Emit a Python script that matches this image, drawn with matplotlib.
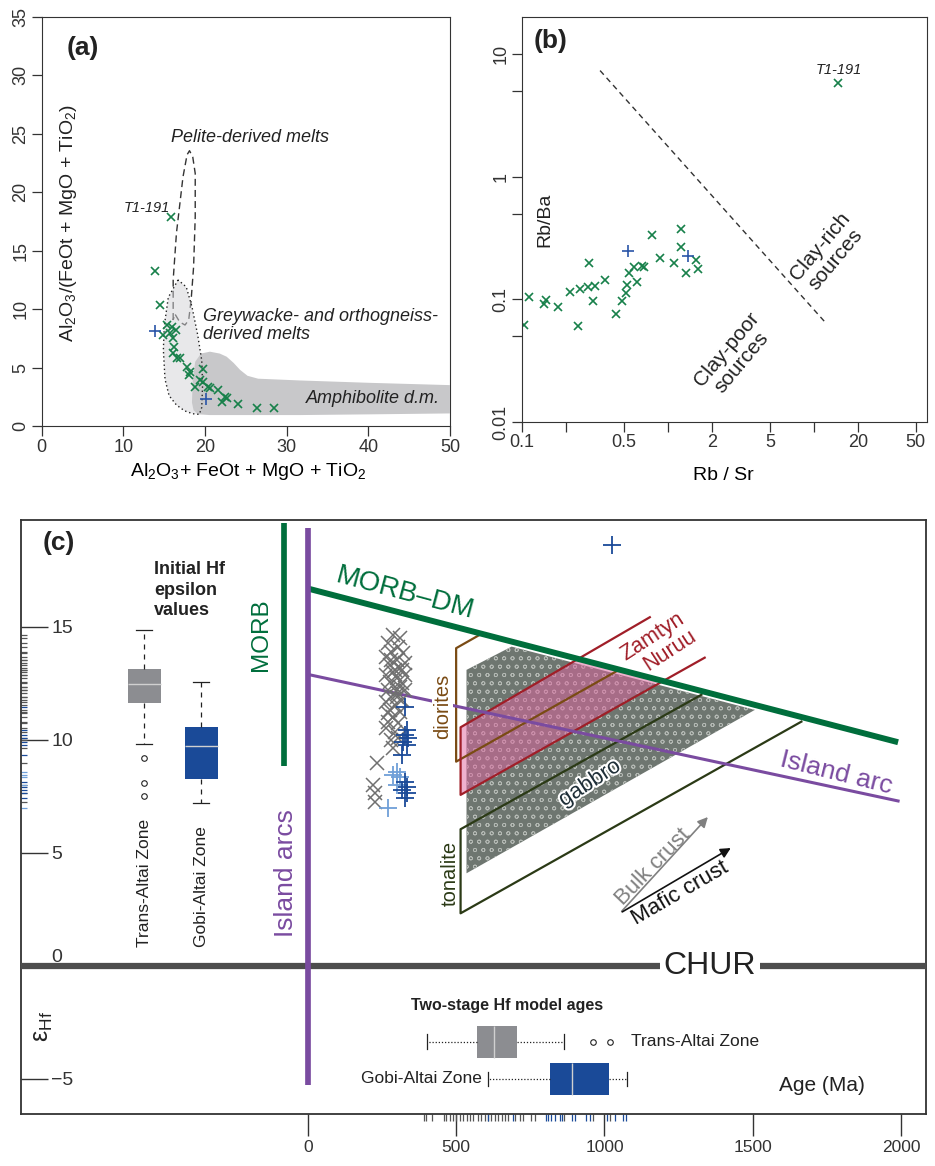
import matplotlib
matplotlib.use('Agg')
import matplotlib.pyplot as plt
import matplotlib.patheffects as pe
from matplotlib.ticker import NullLocator

plt.rcParams['font.family'] = ['Liberation Sans', 'DejaVu Sans']
plt.rcParams['mathtext.fontset'] = 'custom'
plt.rcParams['mathtext.rm'] = 'Liberation Sans'
plt.rcParams['mathtext.it'] = 'Liberation Sans:italic'
plt.rcParams['mathtext.bf'] = 'Liberation Sans:bold'
plt.rcParams['hatch.linewidth'] = 0.55
plt.rcParams['axes.edgecolor'] = '#333333'
plt.rcParams['xtick.color'] = '#333333'
plt.rcParams['ytick.color'] = '#333333'
plt.rcParams['text.color'] = '#222222'

GREEN = '#17804a'
BLUE = '#2a55a8'
LBLUE = '#6f9fd8'
MORB_GREEN = '#006e3c'
PURPLE = '#7a4ba0'
BROWN = '#7a4b14'
RED = '#a01e28'
OLIVE = '#2b3a16'
GREY_BOX = '#8c8d91'
BLUE_BOX = '#1a4a98'

# ---------------- panel (a) data ----------------
a_green_x = [15.8, 13.9, 14.5, 15.30, 15.91, 16.44, 14.89, 15.70, 16.11, 16.19, 16.03, 16.52, 16.93,
             17.75, 18.15, 18.07, 19.78, 18.76, 19.38, 19.78, 20.39, 20.60, 21.62, 22.44, 22.03,
             22.64, 24.07, 26.39, 28.43]
a_green_y = [17.85, 13.3, 10.38, 8.64, 8.50, 8.21, 7.78, 7.93, 7.50, 6.79, 6.22, 5.79, 5.79,
             5.07, 4.65, 4.36, 4.85, 3.36, 3.93, 3.79, 3.36, 3.22, 3.08, 2.51, 2.08,
             2.37, 1.88, 1.51, 1.51]
a_blue_x = [13.9, 20.15]
a_blue_y = [8.1, 2.3]

pelite_x = [16.1, 16.1, 16.5, 17.3, 17.8, 18.1, 18.5, 18.8, 18.8, 18.6, 18.3, 18.0, 17.55, 16.9, 16.3, 16.1]
pelite_y = [9.07, 12.5, 16.5, 21.3, 23.2, 23.55, 23.0, 21.6, 17.9, 13.6, 10.8, 9.07, 8.64, 8.9, 9.6, 9.07]

grey_x = [16.7, 15.5, 15.0, 14.9, 15.1, 15.6, 16.5, 17.5, 18.5, 19.3, 19.6, 19.7, 19.6, 19.1, 18.4, 17.7, 16.7]
grey_y = [12.5, 11.0, 8.5, 6.5, 4.0, 2.6, 1.8, 1.3, 1.05, 1.0, 1.6, 3.5, 5.6, 7.8, 10.2, 11.9, 12.5]

amph_x = [18.4, 18.5, 18.8, 19.5, 20.6, 21.8, 22.65, 23.5, 24.3, 25.2, 26.5, 31.6, 40, 50,
          50, 40, 31.6, 20.6, 19.2, 18.6, 18.4]
amph_y = [2.0, 4.0, 5.5, 6.2, 6.36, 6.2, 5.93, 5.4, 4.8, 4.3, 4.05, 3.9, 3.7, 3.5,
          1.08, 1.0, 0.94, 0.94, 1.0, 1.35, 2.0]

# ---------------- panel (b) data ----------------
b_green_x = [0.104, 0.1117, 0.142, 0.1476, 0.178, 0.214, 0.242, 0.251, 0.289, 0.286, 0.306, 0.318,
             0.372, 0.443, 0.489, 0.518, 0.524, 0.546, 0.591, 0.613, 0.664, 0.689, 0.785, 0.891,
             1.10, 1.23, 1.24, 1.33, 1.56, 1.62, 14.6]
b_green_y = [0.0615, 0.1047, 0.0912, 0.0995, 0.0858, 0.114, 0.0611, 0.1217, 0.196, 0.126, 0.0964, 0.128,
             0.143, 0.0755, 0.0964, 0.1135, 0.130, 0.164, 0.184, 0.139, 0.188, 0.184, 0.331, 0.219,
             0.196, 0.373, 0.268, 0.165, 0.208, 0.177, 5.75]
b_blue_x = [0.538, 1.38]
b_blue_y = [0.248, 0.225]
divide_x = [0.344, 11.8]
divide_y = [7.31, 0.0662]

# ---------------- panel (c) data ----------------
taz_age = [288, 310, 271, 305, 282, 321, 265, 299, 327, 276, 310, 288, 265, 327, 299,
           276, 316, 293, 271, 327, 305, 282, 316, 265, 293, 276, 310, 288, 271, 305,
           265, 293, 282, 305, 288, 232, 220, 226, 226, 293, 299, 316, 282, 310, 271]
taz_eps = [14.65, 14.5, 14.28, 14.13, 13.91, 13.84, 13.69, 13.54, 13.39, 13.32, 13.17, 13.02, 12.88, 12.88, 12.73,
           12.58, 12.51, 12.36, 12.21, 12.21, 12.07, 11.92, 11.77, 11.69, 11.55, 11.33, 11.25, 11.03, 10.81, 10.74,
           10.52, 10.37, 10.0, 10.07, 9.63, 8.97, 8.01, 7.64, 7.27, 13.1, 11.92, 13.1, 13.54, 12.36, 11.18]
gaz_age = [327, 333, 327, 338, 321, 333, 316, 327, 333, 316, 333, 327, 1025]
gaz_eps = [11.47, 10.44, 10.22, 10.07, 9.92, 9.78, 9.34, 8.15, 7.93, 7.79, 7.64, 7.42, 18.63]
gaz2_age = [299, 288, 310, 299, 271]
gaz2_eps = [8.6, 8.45, 8.38, 8.0, 6.98]

taz_model_age = [391, 400, 417, 459, 467, 478, 490, 501, 512, 524, 535, 546, 557, 574, 585, 597,
                 608, 619, 630, 641, 653, 664, 675, 698, 715, 726, 754, 765, 864, 962, 1018]
gaz_model_age = [608, 692, 802, 810, 821, 832, 849, 858, 889, 900, 939, 953, 1007, 1035, 1061, 1072]

# box statistics: [whislo, q1, med, q3, whishi]
taz_eps_box = [9.84, 11.62, 12.46, 13.14, 14.87]
taz_eps_out = [9.22, 8.09, 7.54]
gaz_eps_box = [7.21, 8.27, 9.75, 10.57, 12.57]
taz_age_box = [402, 570, 627, 704, 864]
taz_age_out = [962, 1018]
gaz_age_box = [608, 816, 889, 1015, 1075]

morb_dm_age = [0, 1990]
morb_dm_eps = [16.7, 9.9]
arc_age = [0, 1990]
arc_eps = [12.9, 7.3]
morb_age = [-81, -81]
morb_eps = [8.86, 19.6]
arcs_age = [0, 0]
arcs_eps = [-5.27, 19.37]

diorite_age = [586, 500, 500, 1050]
diorite_eps = [14.7, 14.06, 9.04, 13.11]
zamtyn_age = [1153, 515, 515, 1338]
zamtyn_eps = [15.43, 10.56, 7.57, 13.64]
zamtyn_fill_age = [515, 916, 1190, 515]
zamtyn_fill_eps = [10.56, 13.57, 12.63, 7.57]
tonalite_age = [1327, 515, 515, 1664]
tonalite_eps = [12.0, 6.05, 2.33, 10.81]
gabbro_age = [535, 535, 687, 1507]
gabbro_eps = [4.1, 13.1, 14.13, 11.33]


def make_stats(b, fl=()):
    return dict(whislo=b[0], q1=b[1], med=b[2], q3=b[3], whishi=b[4], fliers=list(fl))


fig = plt.figure(figsize=(9.35, 11.66), dpi=100)

# ================= (a) =================
ax = fig.add_axes([0.0446, 0.6346, 0.4367, 0.3510])
ax.set_xlim(0, 50)
ax.set_ylim(0, 35)
ax.plot(pelite_x, pelite_y, ls=(0, (5, 3)), color='#333333', lw=1.0, zorder=1)
ax.fill(grey_x, grey_y, color='#d2d2d6', alpha=0.5, lw=0, zorder=2)
ax.fill(amph_x, amph_y, color='#c8c8ca', lw=0, zorder=3)
ax.plot(grey_x, grey_y, ls=(0, (1, 2)), color='#222222', lw=1.0, zorder=4)
ax.plot(a_green_x, a_green_y, 'x', color=GREEN, ms=6, mew=1.2, zorder=5)
ax.plot(a_blue_x, a_blue_y, '+', color=BLUE, ms=8, mew=1.2, zorder=5)
ax.set_xticks([0, 10, 20, 30, 40, 50])
ax.set_yticks([0, 5, 10, 15, 20, 25, 30, 35])
ax.tick_params(labelsize=13, length=7, width=0.9, pad=2)
ax.tick_params(axis='y', labelrotation=90)
for lbl in ax.get_yticklabels():
    lbl.set_va('center')
ax.set_xlabel(r'Al$_2$O$_3$+ FeOt + MgO + TiO$_2$', fontsize=14)
ax.xaxis.set_label_coords(0.505, -0.112)
ax.xaxis.label.set_va('center')
ax.text(0.065, 0.495, r'Al$_2$O$_3$/(FeOt + MgO + TiO$_2$)', transform=ax.transAxes,
        rotation=90, ha='center', va='center', fontsize=14)
ax.text(3.0, 32.3, '(a)', fontsize=19, fontweight='bold', va='center')
ax.text(25.5, 24.7, 'Pelite-derived melts', fontsize=13, style='italic', ha='center', va='center')
ax.text(19.7, 8.6, 'Greywacke- and orthogneiss-\nderived melts', fontsize=13, style='italic',
        ha='left', va='center', linespacing=1.15)
ax.text(48.75, 2.37, 'Amphibolite d.m.', fontsize=13, style='italic', ha='right', va='center')
ax.text(15.7, 18.62, 'T1-191', fontsize=10.5, style='italic', ha='right', va='center')

# ================= (b) =================
ax = fig.add_axes([0.558, 0.6381, 0.4332, 0.3476])
ax.set_xscale('log')
ax.set_yscale('log')
ax.set_xlim(0.1, 59.4)
ax.set_ylim(0.01, 20.1)
ax.plot(divide_x, divide_y, ls=(0, (4, 3)), color='#333333', lw=1.0)
ax.plot(b_green_x, b_green_y, 'x', color=GREEN, ms=6, mew=1.2)
ax.plot(b_blue_x, b_blue_y, '+', color=BLUE, ms=8, mew=1.2)
ax.set_xticks([0.1, 0.2, 0.5, 1, 2, 5, 10, 20, 50])
ax.set_xticklabels(['0.1', '', '0.5', '', '2', '5', '', '20', '50'])
ax.set_yticks([0.01, 0.05, 0.1, 0.5, 1, 5, 10])
ax.set_yticklabels(['0.01', '', '0.1', '', '1', '', '10'])
ax.xaxis.set_minor_locator(NullLocator())
ax.yaxis.set_minor_locator(NullLocator())
ax.tick_params(labelsize=13, length=7, width=0.9, pad=2)
ax.tick_params(axis='y', labelrotation=90)
for lbl in ax.get_yticklabels():
    lbl.set_va('center')
ax.set_xlabel('Rb / Sr', fontsize=14)
ax.xaxis.set_label_coords(0.498, -0.131)
ax.xaxis.label.set_va('center')
ax.text(0.0575, 0.498, 'Rb/Ba', transform=ax.transAxes, rotation=90, ha='center', va='center', fontsize=14)
ax.text(0.03, 0.94, '(b)', transform=ax.transAxes, fontsize=19, fontweight='bold', va='center')
ax.text(14.9, 7.4, 'T1-191', fontsize=10.5, style='italic', ha='center', va='center')
ax.text(12.5, 0.238, 'Clay-rich\nsources', fontsize=15, rotation=50, ha='center', va='center', linespacing=1.1)
ax.text(2.85, 0.0344, 'Clay-poor\nsources', fontsize=15, rotation=50, ha='center', va='center', linespacing=1.1)

# ================= (c) =================
ax = fig.add_axes([0.02214, 0.0446, 0.9682, 0.5094])
for s in ax.spines.values():
    s.set_linewidth(1.3)

ax.fill(gabbro_age, gabbro_eps, facecolor='#6e7670', edgecolor='#b4b9b4', lw=0, hatch='oo', zorder=1)
ax.fill(zamtyn_fill_age, zamtyn_fill_eps, color='#e0649f', alpha=0.5, lw=0, zorder=2)
ax.plot(diorite_age, diorite_eps, color=BROWN, lw=1.6, zorder=3)
ax.plot(zamtyn_age, zamtyn_eps, color=RED, lw=1.6, zorder=3)
ax.plot(tonalite_age, tonalite_eps, color=OLIVE, lw=1.6, zorder=3)
ax.plot(morb_dm_age, morb_dm_eps, color=MORB_GREEN, lw=4.3, solid_capstyle='butt', zorder=4)
ax.plot(arc_age, arc_eps, color=PURPLE, lw=2.2, zorder=4)
ax.axhline(0, color='#4d4d4d', lw=4.5, zorder=5)
ax.plot(morb_age, morb_eps, color=MORB_GREEN, lw=4.1, solid_capstyle='butt', zorder=6)
ax.plot(arcs_age, arcs_eps, color=PURPLE, lw=4.1, solid_capstyle='butt', zorder=6)

ax.plot(taz_age, taz_eps, 'x', color='#707070', ms=9.5, mew=1.1, zorder=7)
ax.plot(gaz2_age, gaz2_eps, '+', color=LBLUE, ms=13, mew=1.3, zorder=8)
ax.plot(gaz_age, gaz_eps, '+', color=BLUE_BOX, ms=13, mew=1.3, zorder=8)

# initial Hf epsilon boxplots and model age boxplots
common = dict(patch_artist=True, showfliers=True, manage_ticks=False,
              medianprops=dict(color='#d0d0d0', lw=1.0),
              capprops=dict(color='#222222', lw=0.9),
              flierprops=dict(marker='o', ms=4, mfc='none', mec='#222222', mew=0.8))
bp = ax.bxp([make_stats(taz_eps_box, taz_eps_out), make_stats(gaz_eps_box)], positions=[-551, -360],
            widths=111, capwidths=54, whiskerprops=dict(color='#222222', lw=0.9, ls=(0, (4, 4))), **common)
for patch, c in zip(bp['boxes'], [GREY_BOX, BLUE_BOX]):
    patch.set_facecolor(c)
    patch.set_edgecolor('none')
bp = ax.bxp([make_stats(taz_age_box, taz_age_out), make_stats(gaz_age_box)], positions=[-3.36, -5.0],
            widths=1.42, capwidths=0.66, orientation='horizontal',
            whiskerprops=dict(color='#222222', lw=0.9, ls=(0, (1, 1.5))), **common)
for patch, c in zip(bp['boxes'], [GREY_BOX, BLUE_BOX]):
    patch.set_facecolor(c)
    patch.set_edgecolor('none')

ax.set_xlim(-968, 2084)
ax.set_ylim(-6.55, 19.73)

# rugs
ax.hlines(taz_eps, 0, 0.0075, transform=ax.get_yaxis_transform(), colors='#555555', lw=0.9)
ax.hlines(gaz_eps[:-1], 0, 0.0075, transform=ax.get_yaxis_transform(), colors=BLUE_BOX, lw=0.9)
ax.hlines(gaz2_eps, 0, 0.0075, transform=ax.get_yaxis_transform(), colors=LBLUE, lw=0.9)
ax.vlines(taz_model_age, -0.012, 0, transform=ax.get_xaxis_transform(), colors='#555555', lw=0.9, clip_on=False)
ax.vlines(gaz_model_age, -0.012, 0, transform=ax.get_xaxis_transform(), colors=BLUE_BOX, lw=0.9, clip_on=False)

ax.set_xticks([0, 500, 1000, 1500, 2000])
ax.set_xticklabels(['0', '500', '1000', '1500', '2000'])
ax.set_yticks([-5, 0, 5, 10, 15])
ax.set_yticklabels(['\u22125', '0', '5', '10', '15'])
ax.tick_params(axis='x', labelsize=12.5, length=16, width=1, pad=3)
ax.tick_params(axis='y', direction='in', labelsize=14, length=19.5, width=1, pad=-22)
for lbl in ax.get_yticklabels():
    lbl.set_ha('left')
ax.get_yticklabels()[1].set_va('bottom')

ax.text(-968 + 75, 18.7, '(c)', fontsize=19, fontweight='bold', va='center')
ax.text(-519, 17.9, 'Initial Hf\nepsilon\nvalues', fontsize=13, fontweight='bold', va='top', linespacing=1.25)
ax.text(-551, 0.82, 'Trans-Altai Zone', rotation=90, ha='center', va='bottom', fontsize=12.5)
ax.text(-360, 0.82, 'Gobi-Altai Zone', rotation=90, ha='center', va='bottom', fontsize=12.5)
ax.text(-158, 14.65, 'MORB', rotation=90, ha='center', va='center', fontsize=17.5, color=MORB_GREEN)
ax.text(-72, 4.1, 'Island arcs', rotation=90, ha='center', va='center', fontsize=19, color=PURPLE)
ax.text(327, 16.46, 'MORB\u2013DM', rotation=-15, ha='center', va='center', fontsize=20, color=MORB_GREEN)
ax.text(1782, 8.53, 'Island arc', rotation=-14, ha='center', va='center', fontsize=19, color=PURPLE)
ax.text(1355, 0, 'CHUR', ha='center', va='center', fontsize=23, zorder=6,
        bbox=dict(boxstyle='square,pad=0.12', fc='white', ec='none'))
ax.text(455, 11.5, 'diorites', rotation=90, ha='center', va='center', fontsize=14.5, color=BROWN, zorder=5,
        bbox=dict(boxstyle='square,pad=0.05', fc='white', ec='none'))
ax.text(479, 4.1, 'tonalite', rotation=90, ha='center', va='center', fontsize=14.5, color=OLIVE)
ax.text(1164, 14.57, 'Zamtyn', rotation=33, ha='center', va='center', fontsize=15.5, color=RED)
ax.text(1220, 13.98, 'Nuruu', rotation=33, ha='center', va='center', fontsize=15.5, color=RED)
ax.text(951, 8.08, 'gabbro', rotation=33, ha='center', va='center', fontsize=16, color='#1f2f38', zorder=6,
        path_effects=[pe.withStroke(linewidth=3, foreground='white')])
ax.annotate('', xy=(1355, 6.68), xytext=(1052, 2.33),
            arrowprops=dict(arrowstyle='-|>', color='#808080', lw=1.2, mutation_scale=15))
ax.annotate('', xy=(1434, 5.28), xytext=(1052, 2.33),
            arrowprops=dict(arrowstyle='-|>', color='#111111', lw=1.2, mutation_scale=15))
ax.text(1164, 4.39, 'Bulk crust', rotation=46, ha='center', va='center', fontsize=16, color='#808080')
ax.text(1254, 3.22, 'Mafic crust', rotation=30, ha='center', va='center', fontsize=16, color='#111111')
ax.text(672, -1.76, 'Two-stage Hf model ages', fontsize=11.5, fontweight='bold', ha='center', va='center')
ax.text(1091, -3.36, 'Trans-Altai Zone', fontsize=12.5, ha='left', va='center')
ax.text(587, -5.0, 'Gobi-Altai Zone', fontsize=12.5, ha='right', va='center')
ax.text(1733, -5.27, 'Age (Ma)', fontsize=15, ha='center', va='center')
ax.text(-893, -2.7, '\u03b5$_{\\mathrm{Hf}}$', rotation=90, fontsize=18, ha='center', va='center')

fig.savefig('out.png', dpi=100)
